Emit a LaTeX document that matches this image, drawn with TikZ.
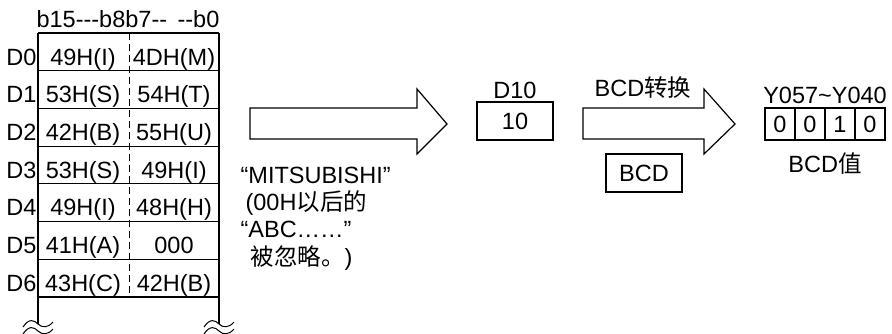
\documentclass[tikz,border=0pt]{standalone}
\usepackage{fontspec}
\setmainfont{Liberation Sans}[Ligatures=TeXOff]
\newfontfamily\cjk{Noto Sans CJK SC}
\tikzset{
  cellbox/.style={draw,line width=1.2pt,minimum width=76pt,minimum height=38pt},
  bitbox/.style={draw,line width=1.2pt,minimum width=30pt,minimum height=32pt},
  bigarrow/.style={draw,line width=1.2pt,line join=miter},
  breakmark/.style={line width=1pt}
}
\begin{document}
\begin{tikzpicture}[x=1pt,y=-1pt,line width=1.2pt,every node/.style={font=\fontsize{23.5}{28}\selectfont,inner sep=0pt}]
\useasboundingbox (0,0) rectangle (892,333);
% word table
\node[anchor=base] (bits) at (128,27) {b15---b8b7--\ \,--b0};
\draw (38,33) -- (219,33);
\draw (38,33) -- (38,324) (219,33) -- (219,324);
\foreach \y in {70.7,108.4,146.1,183.8,221.5,259.2,296.9} \draw (38,\y) -- (219,\y);
\draw[line width=1pt,dash pattern=on 7pt off 4pt] (129,33) -- (129,296.9);
\foreach \hi/\lo [count=\i from 0] in {49H(I)/4DH(M),53H(S)/54H(T),42H(B)/55H(U),53H(S)/49H(I),49H(I)/48H(H),41H(A)/000,43H(C)/42H(B)} {
  \pgfmathsetmacro\yb{65+37.7*\i}
  \node[anchor=base east] (d\i) at (37,\yb) {D\i};
  \node[anchor=base] (hi\i) at (83,\yb) {\hi};
  \node[anchor=base] (lo\i) at (174,\yb) {\lo};
}
% break marks
\foreach \x in {38,219} \foreach \dy in {0,7}
  \draw[breakmark] (\x-15,327+\dy) .. controls (\x-9,318+\dy) and (\x-4,320+\dy) .. (\x,324+\dy) .. controls (\x+4,328+\dy) and (\x+10,328+\dy) .. (\x+15,322+\dy);
% first arrow and note
\draw[bigarrow] (250,108) -- (417,108) -- (417,89) -- (447,124) -- (417,154) -- (417,139) -- (250,139) -- cycle;
\node[anchor=base west] (m1) at (240,183) {“MITSUBISHI”};
\node[anchor=base west] (m2) at (245,210) {(00H{\cjk 以后的}};
\node[anchor=base west] (m3) at (240,237) {“ABC……”};
\node[anchor=base west] (m4) at (250,265) {{\cjk 被忽略。})};
% D10
\node[anchor=base] (dtenlbl) at (515,98) {D10};
\node[cellbox] (dten) at (515,121) {10};
% second arrow
\draw[bigarrow] (583,108) -- (704,108) -- (704,89) -- (735,124) -- (704,154) -- (704,139) -- (583,139) -- cycle;
\node[anchor=base] (conv) at (643,96) {BCD{\cjk 转换}};
\node[cellbox] (bcd) at (644,173) {BCD};
% output bits
\node[anchor=base] (ylbl) at (825,103) {Y057\textasciitilde Y040};
\foreach \b [count=\k] in {0,0,1,0} \node[bitbox] (y\k) at (750+30*\k,124) {\b};
\node[anchor=base] (bcdval) at (825,172) {BCD{\cjk 值}};
\end{tikzpicture}
\end{document}
